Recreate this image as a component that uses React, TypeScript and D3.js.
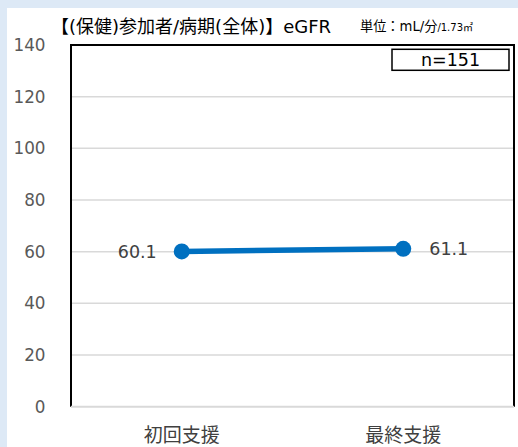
import React from "react";
import * as d3 from "d3";

const categories = ["初回支援", "最終支援"];
const values = [60.1, 61.1];
const valueLabels = ["60.1", "61.1"];
const yTicks = [0, 20, 40, 60, 80, 100, 120, 140];
const title = "【(保健)参加者/病期(全体)】eGFR";
const unitMain = "単位：mL/分";
const unitSub = "/1.73㎡";
const nLabel = "n=151";

const W = 518;
const H = 447;
const FONT = "'DejaVu Sans', 'Noto Sans CJK JP', sans-serif";

export default function App() {
  const left = 71, right = 514, top = 45, bottom = 406.7;
  const x = d3.scaleBand<string>().domain(categories).range([left, right]).padding(0);
  const y = d3.scaleLinear().domain([0, 140]).range([bottom, top]);
  const cx = (i: number) => (x(categories[i]) as number) + x.bandwidth() / 2;
  const line = d3
    .line<number>()
    .x((_, i) => cx(i))
    .y((d) => y(d));

  return (
    <svg
      width={W}
      height={H}
      style={{ position: "absolute", left: 0, top: 0, display: "block" }}
      fontFamily={FONT}
    >
      <rect x={0} y={0} width={W} height={H} fill="#dde9f6" />
      <rect x={7} y={8} width={W - 7} height={H - 8} fill="#ffffff" />
      {yTicks.map((t) => (
        <g key={t}>
          {t > 0 && t < 140 && (
            <line x1={left} x2={right} y1={y(t)} y2={y(t)} stroke="#d9d9d9" strokeWidth={1.5} />
          )}
          <text x={45.5} y={y(t)} dy="0.36em" textAnchor="end" fontSize={16.8} fill="#595959">
            {t}
          </text>
        </g>
      ))}
      <path
        d={`M${left},${bottom}V${top}H${right}V${bottom}`}
        fill="none"
        stroke="#000"
        strokeWidth={2}
      />
      <line x1={left} x2={right} y1={bottom} y2={bottom} stroke="#d9d9d9" strokeWidth={2} />
      <path d={line(values) || ""} fill="none" stroke="#0070c0" strokeWidth={5.5} />
      {values.map((v, i) => (
        <circle key={i} cx={cx(i)} cy={y(v)} r={8} fill="#0070c0" />
      ))}
      <text x={cx(0) - 25} y={y(values[0])} dy="0.36em" textAnchor="end" fontSize={17.5} fill="#404040">
        {valueLabels[0]}
      </text>
      <text x={cx(1) + 26} y={y(values[1])} dy="0.36em" textAnchor="start" fontSize={17.5} fill="#404040">
        {valueLabels[1]}
      </text>
      {categories.map((c, i) => (
        <text key={c} x={cx(i)} y={435.5} dy="0.36em" textAnchor="middle" fontSize={19} fill="#404040">
          {c}
        </text>
      ))}
      <text x={51} y={27} dy="0.36em" fontSize={18} fill="#000">
        {title}
      </text>
      <text x={360} y={31} fontSize={13.2} fill="#000">
        {unitMain}
        <tspan fontSize={10}>{unitSub}</tspan>
      </text>
      <rect x={392} y={49.3} width={117} height={21} fill="#fff" stroke="#000" strokeWidth={1.5} />
      <text x={450.5} y={59.5} dy="0.36em" textAnchor="middle" fontSize={17.5} fill="#000">
        {nLabel}
      </text>
    </svg>
  );
}
